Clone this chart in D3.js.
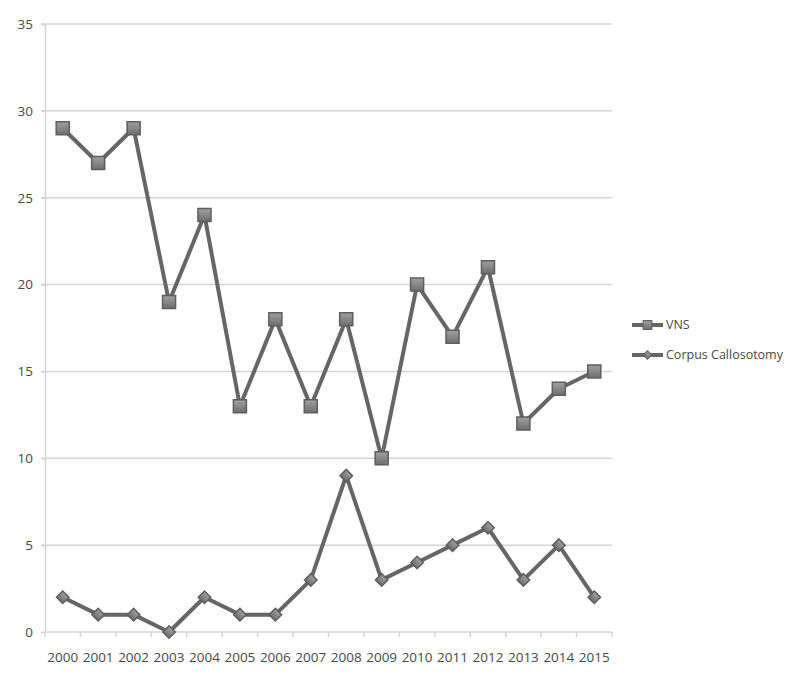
<!DOCTYPE html>
<html>
<head>
<meta charset="utf-8">
<script src="https://cdn.jsdelivr.net/npm/d3@7"></script>
<style>
  body { margin: 0; background: #fff; }
  svg { display: block; font-family: "Open Sans", sans-serif; }
</style>
</head>
<body>
<div id="chart"></div>
<script>
/* data */
const years = ["2000","2001","2002","2003","2004","2005","2006","2007",
               "2008","2009","2010","2011","2012","2013","2014","2015"];
const vns = [29, 27, 29, 19, 24, 13, 18, 13, 18, 10, 20, 17, 21, 12, 14, 15];
const corpus = [2, 1, 1, 0, 2, 1, 1, 3, 9, 3, 4, 5, 6, 3, 5, 2];
const yTicks = [0, 5, 10, 15, 20, 25, 30, 35];
const seriesNames = ["VNS", "Corpus Callosotomy"];

const W = 800, H = 681;
const plotL = 45, plotR = 612, plotT = 24, plotB = 632;
const lineColor = "#666", gridColor = "#d4d4d4", textColor = "#484848";

const svg = d3.select("#chart").append("svg")
  .attr("width", W).attr("height", H);

const defs = svg.append("defs");
const grad = defs.append("linearGradient").attr("id", "mk")
  .attr("x1", 0).attr("y1", 0).attr("x2", 0).attr("y2", 1);
grad.append("stop").attr("offset", "0%").attr("stop-color", "#a0a0a0");
grad.append("stop").attr("offset", "100%").attr("stop-color", "#6e6e6e");

const x = d3.scaleBand().domain(years).range([plotL, plotR]);
const y = d3.scaleLinear().domain([0, 35]).range([plotB, plotT]);
const cx = d => x(d) + x.bandwidth() / 2;

/* horizontal grid */
svg.append("g")
  .selectAll("line")
  .data(yTicks.filter(d => d > 0))
  .join("line")
    .attr("x1", plotL - 4).attr("x2", plotR)
    .attr("y1", d => y(d)).attr("y2", d => y(d))
    .attr("stroke", gridColor).attr("stroke-width", 1.5);

/* y axis */
svg.append("g")
  .attr("transform", `translate(${plotL},0)`)
  .call(d3.axisLeft(y).tickValues(yTicks).tickSize(4).tickPadding(8))
  .call(g => g.select(".domain").attr("stroke", gridColor).attr("stroke-width", 1.5))
  .call(g => g.selectAll(".tick line").attr("stroke", gridColor).attr("stroke-width", 1.5))
  .call(g => g.selectAll("text").attr("fill", textColor).style("font-size", "13.5px")
    .style("font-family", "'Open Sans', sans-serif"));

/* x axis with ticks on category boundaries */
const xAxis = svg.append("g").attr("transform", `translate(0,${plotB})`);
xAxis.append("line")
  .attr("x1", plotL).attr("x2", plotR)
  .attr("stroke", gridColor).attr("stroke-width", 1.5);
xAxis.selectAll(".bt")
  .data(years.concat(["end"]))
  .join("line")
    .attr("class", "bt")
    .attr("x1", (d, i) => plotL + i * x.step())
    .attr("x2", (d, i) => plotL + i * x.step())
    .attr("y1", 0).attr("y2", 5)
    .attr("stroke", gridColor).attr("stroke-width", 1.5);
xAxis.selectAll("text")
  .data(years)
  .join("text")
    .attr("x", d => cx(d)).attr("y", 30)
    .attr("text-anchor", "middle")
    .attr("fill", textColor)
    .style("font-size", "13.5px")
    .text(d => d);

/* lines */
const line = d3.line().x((d, i) => cx(years[i])).y(d => y(d));

[vns, corpus].forEach(s => {
  svg.append("path")
    .datum(s)
    .attr("fill", "none")
    .attr("stroke", lineColor)
    .attr("stroke-width", 4)
    .attr("stroke-linejoin", "round")
    .attr("d", line);
});

/* markers */
const square = d3.symbol().type(d3.symbolSquare).size(170);
const diamond = d3.symbol().type(d3.symbolSquare).size(78);

svg.append("g").selectAll("path")
  .data(vns)
  .join("path")
    .attr("transform", (d, i) => `translate(${cx(years[i])},${y(d)})`)
    .attr("d", square)
    .attr("fill", "url(#mk)")
    .attr("stroke", "#5e5e5e").attr("stroke-width", 1.5);

svg.append("g").selectAll("path")
  .data(corpus)
  .join("path")
    .attr("transform", (d, i) => `translate(${cx(years[i])},${y(d)}) rotate(45)`)
    .attr("d", diamond)
    .attr("fill", "url(#mk)")
    .attr("stroke", "#5e5e5e").attr("stroke-width", 1.5);

/* legend */
const legend = svg.append("g");
const legendY = [325, 355];
const legendSym = [d3.symbol().type(d3.symbolSquare).size(80),
                   d3.symbol().type(d3.symbolSquare).size(36)];
const legendRot = [0, 45];
seriesNames.forEach((name, i) => {
  const g = legend.append("g").attr("transform", `translate(632,${legendY[i]})`);
  g.append("line").attr("x1", 0).attr("x2", 31)
    .attr("stroke", lineColor).attr("stroke-width", 4);
  g.append("path").attr("transform", `translate(15.5,0) rotate(${legendRot[i]})`)
    .attr("d", legendSym[i])
    .attr("fill", "url(#mk)").attr("stroke", "#5e5e5e").attr("stroke-width", 1);
  g.append("text").attr("x", 34).attr("dy", "0.35em")
    .attr("fill", textColor).style("font-size", "12.5px")
    .text(name);
});
</script>
</body>
</html>
